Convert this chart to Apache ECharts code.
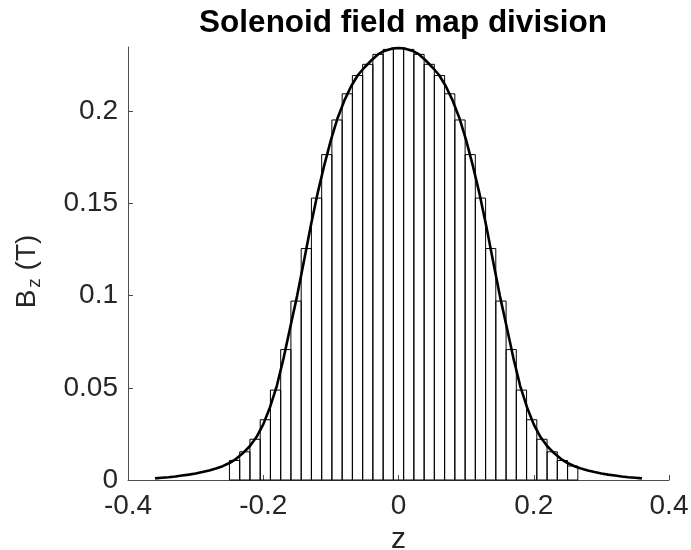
<!DOCTYPE html>
<html><head><meta charset="utf-8">
<script src="https://cdn.jsdelivr.net/npm/echarts@6/dist/echarts.min.js"></script>
<style>html,body{margin:0;padding:0;background:#fff}#c{width:691px;height:550px}</style>
</head><body><div id="c"></div>
<script>
// Field curve (z in m, Bz in T)
const curveZ = [-0.36,-0.35,-0.34,-0.33,-0.32,-0.31,-0.30,-0.29,-0.28,-0.27,-0.26,-0.25,-0.24,-0.23,-0.22,-0.21,-0.20,-0.19,-0.18,-0.17,-0.16,-0.15,-0.14,-0.13,-0.12,-0.11,-0.10,-0.09,-0.08,-0.07,-0.06,-0.05,-0.04,-0.03,-0.02,-0.01,0.00,
  0.01,0.02,0.03,0.04,0.05,0.06,0.07,0.08,0.09,0.10,0.11,0.12,0.13,0.14,0.15,0.16,0.17,0.18,0.19,0.20,0.21,0.22,0.23,0.24,0.25,0.26,0.27,0.28,0.29,0.30,0.31,0.32,0.33,0.34,0.35,0.36];
const curveB = [0.0009,0.0012,0.0015,0.0019,0.0024,0.0029,0.0035,0.0043,0.0052,0.0063,0.0075,0.0092,0.0115,0.0146,0.0183,0.0233,0.0302,0.0395,0.0510,0.0660,0.0830,0.0998,0.1185,0.1375,0.1550,0.1705,0.1845,0.1965,0.2060,0.2137,0.2198,0.2240,0.2278,0.2311,0.2330,0.2341,0.2345,
  0.2341,0.2330,0.2311,0.2278,0.2240,0.2198,0.2137,0.2060,0.1965,0.1845,0.1705,0.1550,0.1375,0.1185,0.0998,0.0830,0.0660,0.0510,0.0395,0.0302,0.0233,0.0183,0.0146,0.0115,0.0092,0.0075,0.0063,0.0052,0.0043,0.0035,0.0029,0.0024,0.0019,0.0015,0.0012,0.0009];
// Division into slices: edges and step heights
const barEdges = [-0.2500,-0.2348,-0.2197,-0.2045,-0.1894,-0.1742,-0.1591,-0.1439,-0.1288,-0.1136,-0.0985,-0.0833,-0.0682,-0.0530,-0.0379,-0.0227,-0.0076,
  0.0076,0.0227,0.0379,0.0530,0.0682,0.0833,0.0985,0.1136,0.1288,0.1439,0.1591,0.1742,0.1894,0.2045,0.2197,0.2348,0.2500,0.2652];
const barHeights = [0.0106,0.0153,0.0221,0.0327,0.0488,0.0708,0.0971,0.1256,0.1530,0.1766,0.1954,0.2096,0.2195,0.2256,0.2310,0.2337,0.2345,
  0.2337,0.2310,0.2256,0.2195,0.2096,0.1954,0.1766,0.1530,0.1256,0.0971,0.0708,0.0488,0.0327,0.0221,0.0153,0.0106,0.0076];
const xTicks = [-0.4,-0.2,0,0.2,0.4];
const yTicks = [0,0.05,0.1,0.15,0.2];
const titleText = 'Solenoid field map division';

const chart = echarts.init(document.getElementById('c'), null, {renderer:'canvas'});
const FONT = 'Liberation Sans';
const TXT = '#262626';
const AX = '#4d4d4d';
const barData = barHeights.map((h,i)=>[barEdges[i], barEdges[i+1], h]);
const lineData = curveZ.map((z,i)=>[z, curveB[i]]);
chart.setOption({
  animation:false,
  backgroundColor:'#fff',
  title:{text:titleText,left:398,top:2,textAlign:'center',
    textStyle:{fontFamily:FONT,fontWeight:'bold',fontSize:31.5,color:'#000'}},
  grid:{left:128,right:22,top:47,bottom:70,containLabel:false,outerBoundsMode:'none'},
  xAxis:{type:'value',min:-0.4,max:0.4,interval:0.2,
    name:'z',nameLocation:'middle',nameGap:44,
    nameTextStyle:{fontFamily:FONT,fontSize:30,color:TXT},
    axisLine:{show:true,onZero:false,lineStyle:{color:AX,width:1}},
    axisTick:{show:true,inside:true,length:5,lineStyle:{color:AX},customValues:xTicks},
    axisLabel:{fontFamily:FONT,fontSize:28,color:TXT,margin:12,customValues:xTicks,
      formatter:v=>String(Math.round(v*10)/10)},
    splitLine:{show:false}},
  yAxis:{type:'value',min:0,max:0.235,
    name:'{b|B}{s|z}{b| (T)}',nameLocation:'middle',nameGap:84,
    nameTextStyle:{fontFamily:FONT,fontSize:28,color:TXT,padding:[0,16,0,0],
      rich:{b:{fontFamily:FONT,fontSize:28,color:TXT},
            s:{fontFamily:FONT,fontSize:19,color:TXT,padding:[14,0,0,2]}}},
    axisLine:{show:true,onZero:false,lineStyle:{color:AX,width:1}},
    axisTick:{show:true,inside:true,length:5,lineStyle:{color:AX},customValues:yTicks},
    axisLabel:{fontFamily:FONT,fontSize:28,color:TXT,margin:10,customValues:yTicks,
      formatter:v=>String(Math.round(v*100)/100)},
    splitLine:{show:false}},
  series:[
    {type:'custom',z:2,data:barData,
      renderItem:function(params,api){
        const p0 = api.coord([api.value(0),0]);
        const p1 = api.coord([api.value(1),api.value(2)]);
        return {type:'rect',shape:{x:p0[0],y:p1[1],width:p1[0]-p0[0],height:p0[1]-p1[1]},
          style:{fill:null,stroke:'#000',lineWidth:1}};
      }},
    {type:'line',z:3,data:lineData,showSymbol:false,smooth:false,
      lineStyle:{color:'#000',width:2.6},itemStyle:{color:'#000'}}
  ]
});
</script></body></html>
